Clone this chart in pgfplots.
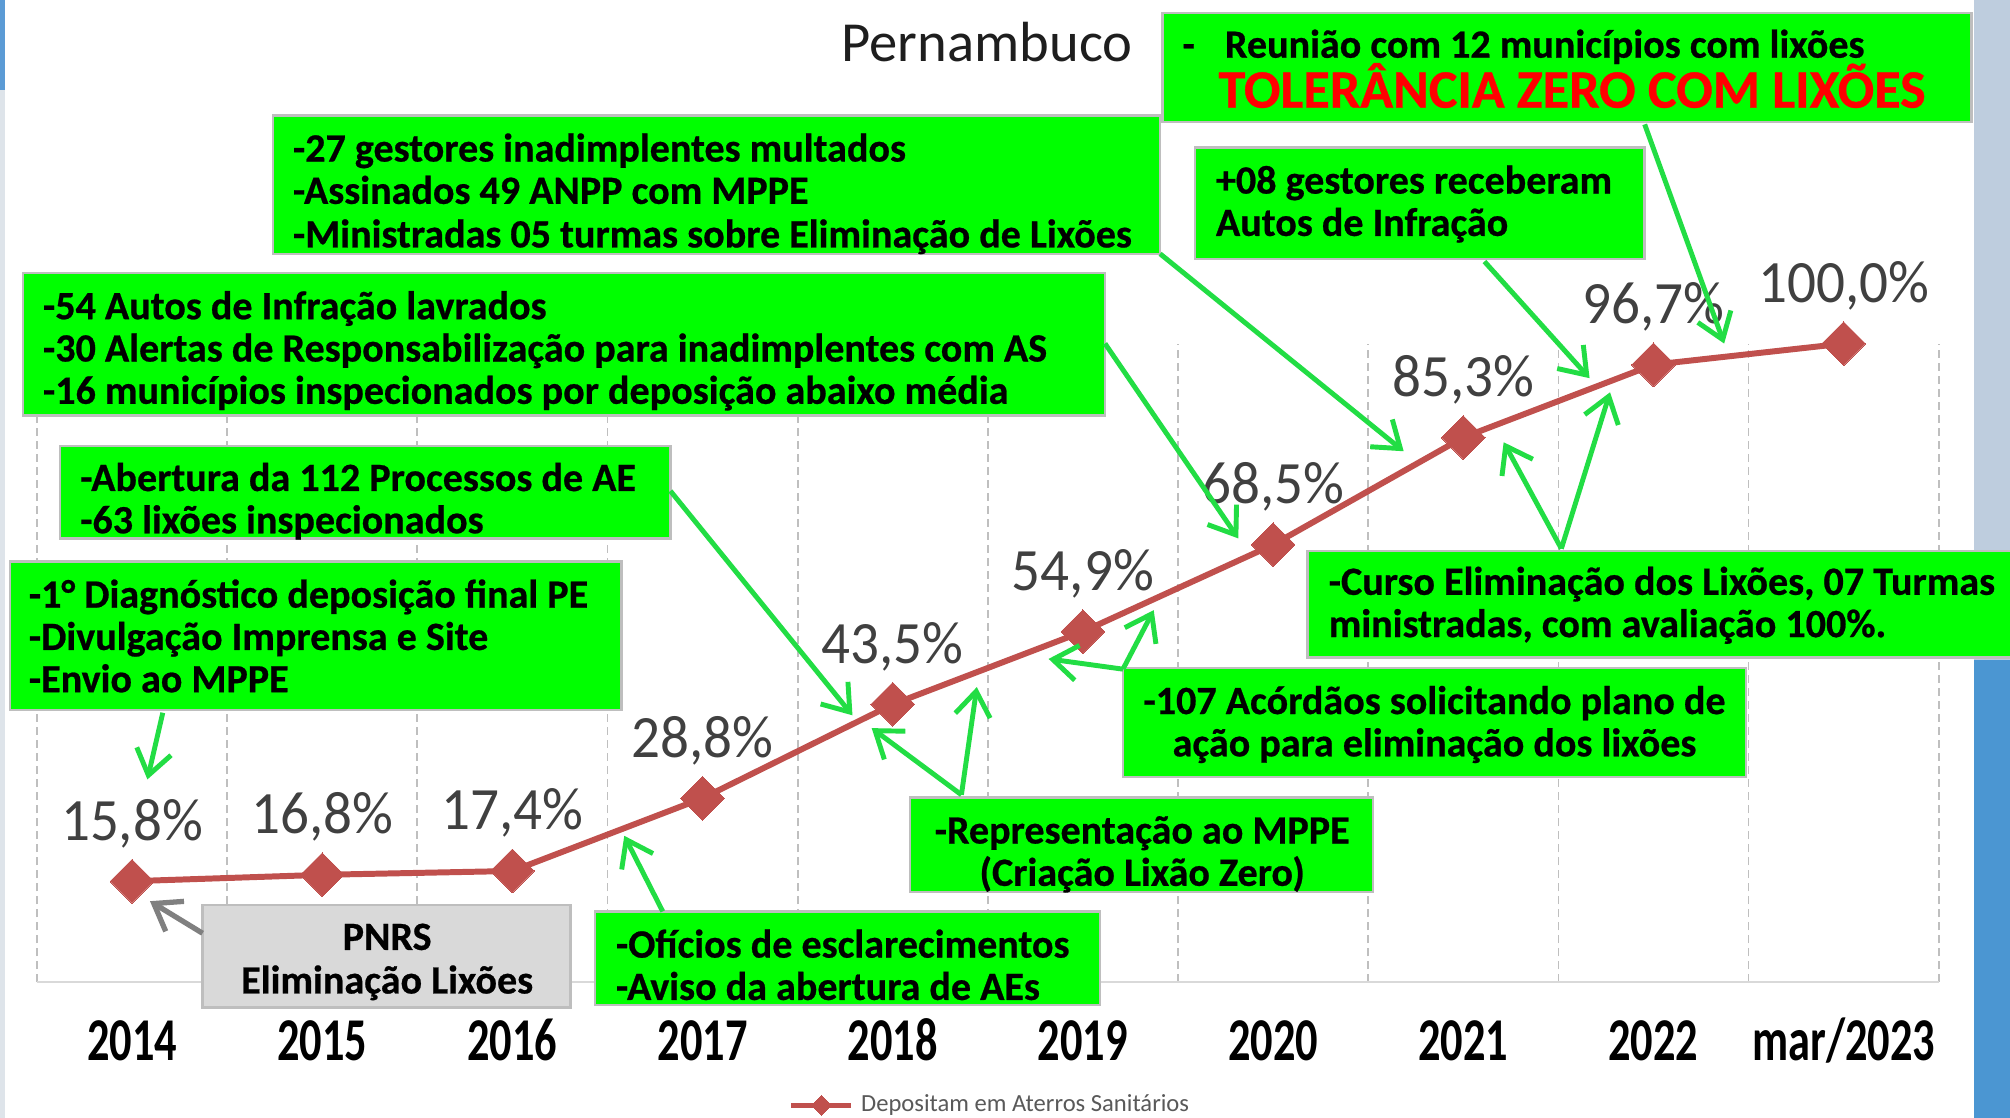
\documentclass[border=0pt]{standalone}
\usepackage{fontspec}
\setmainfont{Carlito}
\newfontfamily\bxf{Carlito}[BoldFeatures={FakeBold=0.6}]
\newfontfamily\tkf{Carlito}[FakeStretch=0.73]
\newfontfamily\lbf{Carlito}[FakeStretch=0.95]
\usepackage{pgfplots}
\pgfplotsset{compat=1.18}
\usetikzlibrary{arrows.meta}
\definecolor{lr}{RGB}{192,80,77}
\definecolor{bgg}{RGB}{0,255,0}
\definecolor{bd}{RGB}{190,190,190}
\definecolor{ag}{RGB}{34,221,68}
\definecolor{gb}{RGB}{217,217,217}
\definecolor{lt}{RGB}{64,64,64}
\definecolor{stripA}{RGB}{190,205,222}
\definecolor{stripB}{RGB}{75,150,210}
\definecolor{stripC}{RGB}{91,155,213}
\definecolor{stripD}{RGB}{222,228,234}
\definecolor{gridc}{RGB}{191,191,191}
\definecolor{legt}{RGB}{89,89,89}
\definecolor{titc}{RGB}{30,30,30}
\definecolor{garr}{RGB}{128,128,128}
\def\U{0.0128189cm}
\tikzset{
 gbox/.style={fill=bgg, draw=bd, line width=0.7pt},
 tl/.style={anchor=base west, inner sep=0pt, font=\bxf\bfseries\fontsize{11.4}{12}\selectfont},
 tc/.style={anchor=base, inner sep=0pt, font=\bxf\bfseries\fontsize{11.4}{12}\selectfont},
 ar/.style={draw=ag, line width=1.4pt, -{Straight Barb[length=7pt,width=10pt]}},
}
\begin{document}
\begin{tikzpicture}
\begin{scope}[x=\U, y=-\U]
\fill[white] (0,0) rectangle (1568,872);
\fill[stripA] (1540,0) rectangle (1568,515);
\fill[stripB] (1540,515) rectangle (1568,872);
\fill[stripC] (0,0) rectangle (4,70);
\fill[stripD] (0,70) rectangle (4,872);
\end{scope}
\begin{axis}[
  at={(0.36918cm,-9.81928cm)}, anchor=south west,
  scale only axis, width=19.0156cm, height=6.3838cm,
  xmin=-0.5, xmax=9.5, ymin=0, ymax=100,
  clip=false,
  axis x line*=bottom, axis y line=none,
  x axis line style={draw=gb, line width=0.8pt},
  xtick={0,...,9},
  xticklabels={2014,2015,2016,2017,2018,2019,2020,2021,2022,mar/2023},
  minor xtick={-0.5,0.5,...,9.5},
  xminorgrids=true,
  minor grid style={draw=gridc, dash pattern=on 2.2pt off 1.5pt, line width=0.5pt},
  major tick length=0pt, minor tick length=0pt,
  ytick=\empty,
  xticklabel style={font=\tkf\bfseries\fontsize{17.3}{18}\selectfont, anchor=base, yshift=-22.2pt, inner sep=0pt},
  nodes near coords={\pgfmathprintnumber[fixed,fixed zerofill,precision=1,use comma,assume math mode=true]{\pgfplotspointmeta}\%},
  every node near coord/.append style={font=\lbf\fontsize{17.1}{18}\selectfont, text=lt, anchor=base, yshift=11.7pt, inner sep=0pt},
  legend style={at={(axis cs:3.45,-19.3)}, anchor=west, draw=none, fill=none, inner sep=0pt, font=\fontsize{7}{8}\selectfont, text=legt},
  legend image code/.code={\draw[#1, mark size=2pt, line width=1.5pt, mark repeat=2, mark phase=2] plot coordinates {(0cm,0cm) (0.3cm,0cm) (0.6cm,0cm)};},
]
\addplot[color=lr, line width=1.7pt, mark=square*, mark size=4.4pt, mark options={solid, rotate=45, fill=lr, draw=lr, line width=0pt}]
 coordinates {(0,15.8)(1,16.8)(2,17.4)(3,28.8)(4,43.5)(5,54.9)(6,68.5)(7,85.3)(8,96.7)(9,100.0)};
\addlegendentry{Depositam em Aterros Sanitários}
\end{axis}
\begin{scope}[x=\U, y=-\U]
\node[anchor=base, inner sep=0pt, font=\fontsize{16.1}{17}\selectfont, text=titc] at (770,48) {Pernambuco};
% box 1
\draw[gbox] (907,10) rectangle (1538,95);
\node[tl] at (922,45) {-};
\node[tl] at (955,45) {Reunião com 12 municípios com lixões};
\node[tl, text=red, font=\bxf\bfseries\fontsize{15.4}{16}\selectfont] at (950,84) {TOLERÂNCIA ZERO COM LIXÕES};
% box 2
\draw[gbox] (213,90) rectangle (905,198);
\node[tl] at (228,126) {-27 gestores inadimplentes multados};
\node[tl] at (228,159) {-Assinados 49 ANPP com MPPE};
\node[tl] at (228,193) {-Ministradas 05 turmas sobre Eliminação de Lixões};
% box 3
\draw[gbox] (932,115) rectangle (1283,202);
\node[tl] at (948,151) {+08 gestores receberam};
\node[tl] at (948,184) {Autos de Infração};
% box 4
\draw[gbox] (18,213) rectangle (862,324);
\node[tl] at (33,249) {-54 Autos de Infração lavrados};
\node[tl] at (33,282) {-30 Alertas de Responsabilização para inadimplentes com AS};
\node[tl] at (33,315) {-16 municípios inspecionados por deposição abaixo média};
% box 5
\draw[gbox] (47,348) rectangle (523,420);
\node[tl] at (62,383) {-Abertura da 112 Processos de AE};
\node[tl] at (62,416) {-63 lixões inspecionados};
% box 6
\draw[gbox] (8,438) rectangle (485,554);
\node[tl] at (22,474) {-1° Diagnóstico deposição final PE};
\node[tl] at (22,507) {-Divulgação Imprensa e Site};
\node[tl] at (22,540) {-Envio ao MPPE};
% box 7
\draw[gbox] (1020,430) rectangle (1580,513);
\node[tl] at (1036,464) {-Curso Eliminação dos Lixões, 07 Turmas};
\node[tl] at (1036,497) {ministradas, com avaliação 100\%.};
% box 8
\draw[gbox] (876,521) rectangle (1362,606);
\node[tc] at (1119,557) {-107 Acórdãos solicitando plano de};
\node[tc] at (1119,590) {ação para eliminação dos lixões};
% box 9
\draw[gbox] (710,622) rectangle (1071,696);
\node[tc] at (891,658) {-Representação ao MPPE};
\node[tc] at (891,691) {(Criação Lixão Zero)};
% box 10
\draw[fill=gb, draw=bd, line width=0.7pt] (158,706) rectangle (445,786);
\node[tc] at (302,741) {PNRS};
\node[tc] at (302,775) {Eliminação Lixões};
% box 11
\draw[gbox] (464,711) rectangle (858,784);
\node[tl] at (480,747) {-Ofícios de esclarecimentos};
\node[tl] at (480,780) {-Aviso da abertura de AEs};
% arrows
\draw[ar] (127,556) -- (115,608);
\draw[ar, draw=garr, line width=1.5pt] (158,728) -- (117,703);
\draw[ar] (517,711) -- (487,652);
\draw[ar] (750,620) -- (680,568);
\draw[ar] (750,620) -- (762,536);
\draw[ar] (523,383) -- (665,558);
\draw[ar] (876,522) -- (818,514);
\draw[ar] (876,522) -- (900,476);
\draw[ar] (862,268) -- (966,420);
\draw[ar] (905,198) -- (1095,352);
\draw[ar] (1218,428) -- (1173,345);
\draw[ar] (1218,428) -- (1256,306);
\draw[ar] (1158,204) -- (1240,295);
\draw[ar] (1283,97) -- (1345,268);
\pgfresetboundingbox
\path[use as bounding box] (0,0) rectangle (1568,872);
\end{scope}
\end{tikzpicture}
\end{document}
